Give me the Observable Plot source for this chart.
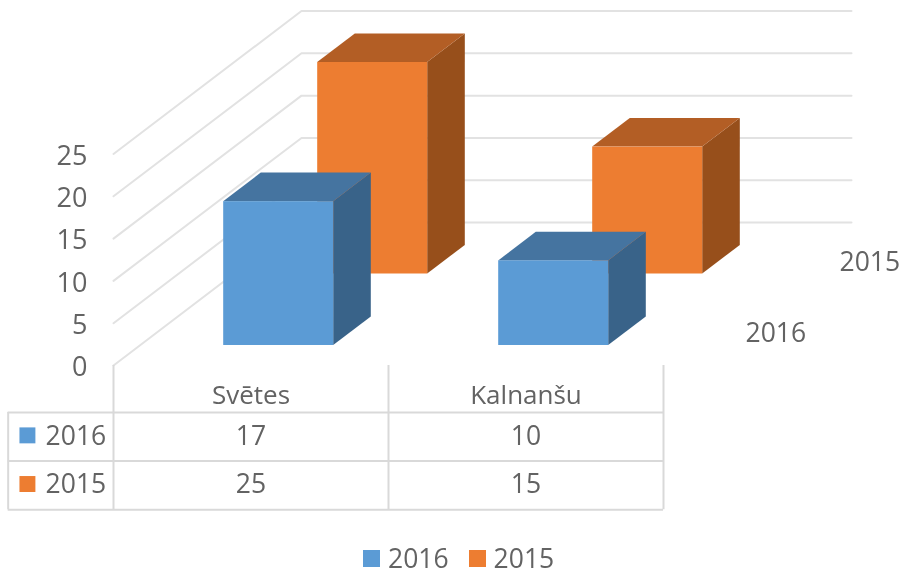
<!DOCTYPE html>
<html>
<head>
<meta charset="utf-8">
<script src="https://cdn.jsdelivr.net/npm/d3@7"></script>
<script src="https://cdn.jsdelivr.net/npm/@observablehq/plot@0.6"></script>
<style>
html,body{margin:0;padding:0;background:#fff;overflow:hidden;}
#legend{display:flex;align-items:center;box-sizing:border-box;height:39px;padding-top:7px;padding-left:363px;font:26.5px/1 "Open Sans",sans-serif;color:#636363;}
#legend i{display:inline-block;width:17px;height:17px;margin-right:8px;}
#legend span{margin-right:20px;}
svg{display:block;}
#chart,#legend{filter:blur(0.4px);}
</style>
</head>
<body>
<div id="chart"></div>
<div id="legend"></div>
<script>
const categories = ["Svētes", "Kalnanšu"];
const series = ["2016", "2015"];
const values2016 = [17, 10];
const values2015 = [25, 15];
const yTicks = [0, 5, 10, 15, 20, 25];
const colors2016 = {front: "#5B9BD5", top: "#4574A0", side: "#396389"};
const colors2015 = {front: "#ED7D31", top: "#B35E25", side: "#974F1B"};

// Oblique projection: one depth row shifts a point right and up, in scale units.
const depthX = 94 / 275, depthY = 8.45;
const barStart = 0.305, barWidth = 0.4, depthFront = 0.28, depthBack = 0.68;
const px = (c, d) => c + d * depthX;
const py = (v, d) => v + d * depthY;

const rows = [
  {name: series[1], row: 1, values: values2015, colors: colors2015},
  {name: series[0], row: 0, values: values2016, colors: colors2016}
];
const fronts = [], sides = [], tops = [];
for (const r of rows) {
  r.values.forEach((v, i) => {
    const c0 = i + barStart, c1 = c0 + barWidth;
    const d0 = r.row + depthFront, d1 = r.row + depthBack;
    const id = r.name + i;
    fronts.push({x1: px(c0, d0), x2: px(c1, d0), y1: py(0, d0), y2: py(v, d0), fill: r.colors.front});
    for (const d of [d0, d1]) {
      sides.push({id, x: px(c1, d), y1: py(0, d), y2: py(v, d), fill: r.colors.side});
      tops.push({id, y: py(v, d), x1: px(c0, d), x2: px(c1, d), fill: r.colors.top});
    }
  });
}
// Draw order: back row first, so each bar overlaps what lies behind it.
const barMarks = [];
for (const r of rows) {
  const keep = d => (d.id || "").startsWith(r.name);
  const n = fronts.filter(f => f.fill === r.colors.front);
  barMarks.push(
    Plot.areaY(sides.filter(keep), {x: "x", y1: "y1", y2: "y2", z: "id", fill: "fill"}),
    Plot.areaX(tops.filter(keep), {y: "y", x1: "x1", x2: "x2", z: "id", fill: "fill"}),
    Plot.rect(n, {x1: "x1", x2: "x2", y1: "y1", y2: "y2", fill: "fill", inset: 0})
  );
}

const grid = yTicks.flatMap(v => [
  {v, x: px(0, 0), y: py(v, 0)},
  {v, x: px(0, 2), y: py(v, 2)},
  {v, x: px(2, 2), y: py(v, 2)}
]);

// Data table under the plot, positioned in scale units below zero.
const tableTop = -5.55, rowH = 5.75, catY = -3.55;
const rowCenter = i => tableTop - rowH * (i + 0.43);
const tableLeft = -0.383, swatchX = -0.313, labelX = -0.247;
const tableBottom = tableTop - 2 * rowH;
const hLines = [0, 1, 2].map(i => ({y: tableTop - rowH * i}));
const vLines = [
  {x: tableLeft, y1: tableTop, y2: tableBottom},
  {x: 0, y1: 0, y2: tableBottom},
  {x: 1, y1: 0, y2: tableBottom},
  {x: 2, y1: 0, y2: tableBottom}
];
const catCells = categories.map((c, i) => ({x: i + 0.5, y: catY, t: c}));
const cells = [
  ...values2016.map((v, i) => ({x: i + 0.5, y: rowCenter(0), t: String(v)})),
  ...values2015.map((v, i) => ({x: i + 0.5, y: rowCenter(1), t: String(v)}))
];
const rowLabels = series.map((s, i) => ({x: labelX, y: rowCenter(i), t: s}));
const swatches = series.map((s, i) => ({x: swatchX, y: rowCenter(i), fill: i ? colors2015.front : colors2016.front}));
const depthLabels = series.map((s, i) => ({x: px(2, i + 0.5), y: py(0, i + 0.5), t: s}));

const textStyle = {fill: "#636363", fontSize: 26.5};
const plot = Plot.plot({
  width: 905, height: 535,
  marginLeft: 113, marginRight: 0, marginTop: 0, marginBottom: 170,
  style: {fontFamily: "'Open Sans', sans-serif", background: "#fff"},
  x: {domain: [0, 792 / 275], axis: null},
  y: {domain: [0, 365 / 8.46], axis: null},
  color: {type: "identity"},
  marks: [
    Plot.line(grid, {x: "x", y: "y", z: "v", stroke: "#E2E2E2", strokeWidth: 2}),
    ...barMarks,
    Plot.axisY({ticks: yTicks, tickSize: 0, tickPadding: 26, fontSize: 27, color: "#636363", label: null, dy: 2, tickFormat: d => String(d)}),
    Plot.ruleY(hLines, {y: "y", x1: tableLeft, x2: 2, stroke: "#D9D9D9", strokeWidth: 2}),
    Plot.ruleX(vLines, {x: "x", y1: "y1", y2: "y2", stroke: "#D9D9D9", strokeWidth: 2}),
    Plot.dot(swatches, {x: "x", y: "y", fill: "fill", symbol: "square", r: 9, dy: 2}),
    Plot.text(rowLabels, {x: "x", y: "y", text: "t", textAnchor: "start", dy: 3, ...textStyle}),
    Plot.text(catCells, {x: "x", y: "y", text: "t", ...textStyle, fontSize: 26}),
    Plot.text(cells, {x: "x", y: "y", text: "t", dy: 3, ...textStyle}),
    Plot.text(depthLabels, {x: "x", y: "y", text: "t", textAnchor: "start", dx: 35, dy: 4, ...textStyle})
  ]
});
document.getElementById("chart").append(plot);
const legend = document.getElementById("legend");
series.forEach((s, i) => {
  const sw = document.createElement("i");
  sw.style.background = i ? colors2015.front : colors2016.front;
  const t = document.createElement("span");
  t.textContent = s;
  legend.append(sw, t);
});
</script>
</body>
</html>
